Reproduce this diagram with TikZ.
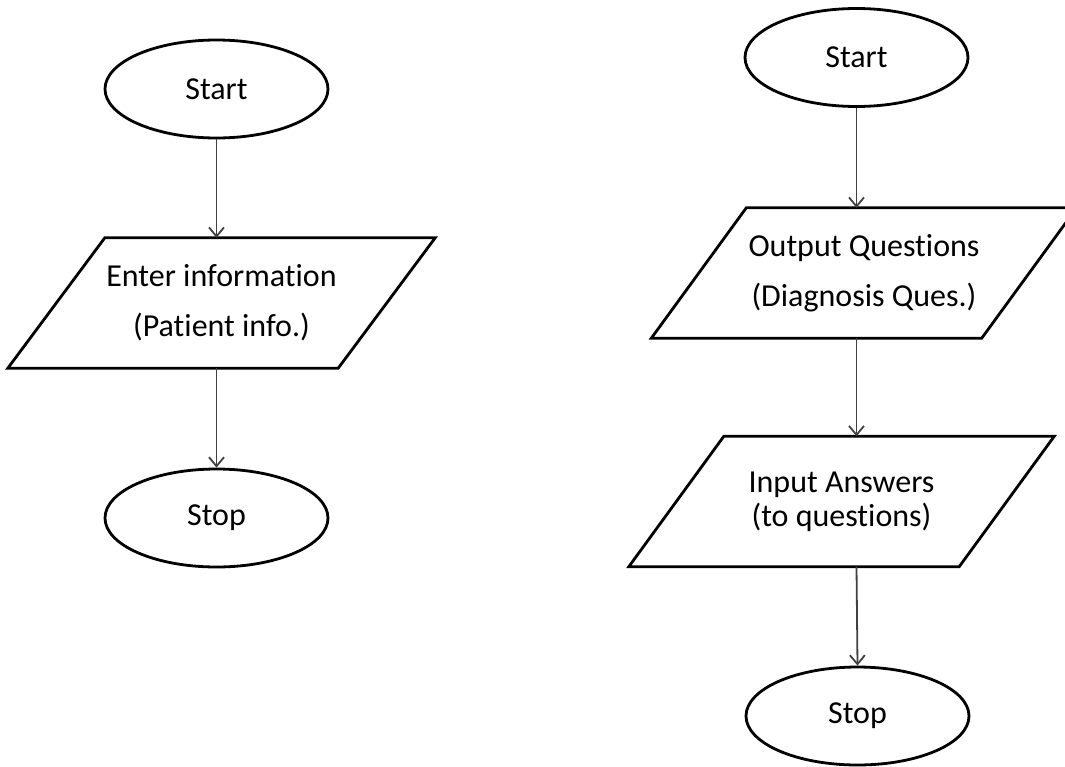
\documentclass[tikz,border=0pt]{standalone}
\usepackage{fontspec}
\setmainfont[Ligatures=NoCommon]{Carlito}
\usetikzlibrary{shapes.geometric, arrows.meta}

\tikzset{
  term/.style={draw, ellipse, line width=2.8pt, minimum width=223pt, minimum height=98pt, inner sep=0pt, font=\fontsize{32}{37}\selectfont},
  iobox/.style={inner sep=0pt, minimum width=330pt, minimum height=130pt, align=center, font=\fontsize{32}{50}\selectfont},
  ioline/.style={line width=2.8pt, line join=miter},
  flow/.style={->, line width=1.8pt, black!75},
}

\begin{document}
\begin{tikzpicture}[x=1pt, y=-1pt, >={Straight Barb[length=9pt, width=15pt]}]
        \useasboundingbox (0,0) rectangle (1065,766);

        % Left chart: patient information
        \node[term] (start1) at (216.5,89) {Start};
        \node[iobox] (enter) at (221.5,303) {Enter information\\(Patient info.)};
        \node[term] (stop1) at (216.5,518) {Stop};

        \draw[ioline] ([xshift=-48.5pt]enter.south west) -- ([xshift=-48.5pt]enter.south east)
            -- ([xshift=48.5pt]enter.north east) -- ([xshift=48.5pt]enter.north west) -- cycle;

        \draw[flow] (start1.south) -- (start1.south |- enter.north);
        \draw[flow] (start1.south |- enter.south) -- (stop1.north);

        % Right chart: diagnosis questions
        \node[term] (start2) at (856.5,57.5) {Start};
        \node[iobox] (output) at (864,273) {Output Questions\\(Diagnosis Ques.)};
        \node[iobox, font=\fontsize{32}{34}\selectfont] (input) at (841.5,501.5) {Input Answers\\(to questions)};
        \node[term] (stop2) at (857.5,716) {Stop};

        \draw[ioline] ([xshift=-47.5pt]output.south west) -- ([xshift=-47.5pt]output.south east)
            -- ([xshift=47.5pt]output.north east) -- ([xshift=47.5pt]output.north west) -- cycle;
        \draw[ioline] ([xshift=-47.5pt]input.south west) -- ([xshift=-47.5pt]input.south east)
            -- ([xshift=47.5pt]input.north east) -- ([xshift=47.5pt]input.north west) -- cycle;

        \draw[flow] (start2.south) -- (start2.south |- output.north);
        \draw[flow] (start2.south |- output.south) -- (start2.south |- input.north);
        \draw[flow] (start2.south |- input.south) -- (stop2.north);
    \end{tikzpicture}
\end{document}
